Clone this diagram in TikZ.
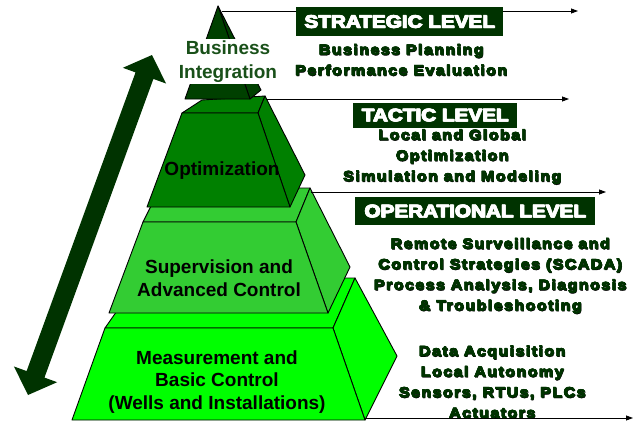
\documentclass[tikz,border=0pt]{standalone}
\usepackage{fontspec}
\setmainfont{Liberation Sans}
\newfontfamily\blk{Liberation Sans}[UprightFont={* Bold}, FakeStretch=1.15, FakeBold=2.5]
\newfontfamily\blkls{Liberation Sans}[UprightFont={* Bold}, FakeStretch=1.12, LetterSpace=10, FakeBold=2.2]
\usetikzlibrary{arrows.meta,calc}
\definecolor{darkg}{RGB}{0,51,0}
\definecolor{topg}{RGB}{0,64,0}
\definecolor{optg}{RGB}{0,128,0}
\definecolor{supg}{RGB}{51,204,51}
\definecolor{meag}{RGB}{0,255,0}
\definecolor{bizg}{RGB}{25,80,25}
% heavy text: shadow + doubled strokes
\newcommand\hvy[1]{\leavevmode\rlap{\kern0.8pt\raisebox{-0.8pt}{\textcolor{black}{#1}}}\rlap{\kern0.6pt #1}\rlap{\raisebox{0.4pt}{#1}}\rlap{\kern0.3pt\raisebox{0.2pt}{#1}}#1}
\newcommand\hvw[1]{\leavevmode\rlap{\kern0.7pt #1}\rlap{\raisebox{0.4pt}{#1}}#1}
\tikzset{
  face/.style={draw=black, line width=0.9pt, line join=round},
  levelbox/.style={fill=darkg, text=white, inner sep=0pt, font=\blk\fontsize{18}{20}\selectfont},
  desc/.style={text=darkg, align=center, inner sep=0pt, font=\blkls\fontsize{14.3}{20.6}\selectfont},
  plabel/.style={text=black, align=center, inner sep=0pt, font=\bfseries\fontsize{19}{22.5}\selectfont},
  levelline/.style={draw=black, line width=0.8pt, -{Triangle[length=7pt,width=5pt]}}
}
\begin{document}
\begin{tikzpicture}[x=1pt,y=-1pt]
\useasboundingbox (0,0) rectangle (641,423);

% ---- Measurement level
\coordinate (mFL) at (72,420);  \coordinate (mFR) at (365,420);
\coordinate (mTL) at (105,328); \coordinate (mTR) at (333,328);
\coordinate (mBL) at (140,278); \coordinate (mBR) at (355,278);
\coordinate (mSR) at (397,356);
\filldraw[face, fill=meag] (mTL) -- (mBL) -- (mBR) -- (mTR) -- cycle;
\filldraw[face, fill=meag] (mTR) -- (mBR) -- (mSR) -- (mFR) -- cycle;
\filldraw[face, fill=meag] (mFL) -- (mFR) -- (mTR) -- (mTL) -- cycle;

% ---- Supervision level
\coordinate (sFL) at (109,313); \coordinate (sFR) at (328,313);
\coordinate (sTL) at (143,222); \coordinate (sTR) at (296,222);
\coordinate (sBL) at (160,188); \coordinate (sBR) at (310,188);
\coordinate (sSR) at (350,267);
\filldraw[face, fill=supg] (sTL) -- (sBL) -- (sBR) -- (sTR) -- cycle;
\filldraw[face, fill=supg] (sTR) -- (sBR) -- (sSR) -- (sFR) -- cycle;
\filldraw[face, fill=supg] (sFL) -- (sFR) -- (sTR) -- (sTL) -- cycle;

% ---- Optimization level
\coordinate (oFL) at (147,207); \coordinate (oFR) at (290,207);
\coordinate (oTL) at (182,113); \coordinate (oTR) at (258,113);
\coordinate (oBL) at (202,100); \coordinate (oBR) at (265,96);
\coordinate (oSR) at (305,175);
\filldraw[face, fill=optg] (oTL) -- (oBL) -- (oBR) -- (oTR) -- cycle;
\filldraw[face, fill=optg] (oTR) -- (oBR) -- (oSR) -- (oFR) -- cycle;
\filldraw[face, fill=optg] (oFL) -- (oFR) -- (oTR) -- (oTL) -- cycle;

% ---- Top pyramid
\coordinate (apex) at (218,6);
\coordinate (tFL) at (185,99); \coordinate (tFR) at (250,99);
\coordinate (tBR) at (261,90);
\filldraw[face, fill=topg] (apex) -- (tFR) -- (tBR) -- cycle;
\filldraw[face, fill=topg] (apex) -- (tFL) -- (tFR) -- cycle;

% ---- Business Integration label
\node[fill=white, text=bizg, align=center, inner xsep=2pt, inner ysep=1.5pt,
      font=\bfseries\fontsize{19}{24}\selectfont] (biz) at (228,61.5) {Business\\Integration};

% ---- Big double arrow
\coordinate (aT) at (152,55);
\coordinate (aB) at (28,395);
\coordinate (hT) at ($(aT)!22pt!(aB)$);
\coordinate (hB) at ($(aB)!22pt!(aT)$);
\fill[darkg]
  (aT) -- ($(hT)!23pt!90:(aB)$) -- ($(hT)!9.5pt!90:(aB)$)
  -- ($(hB)!9.5pt!-90:(aT)$) -- ($(hB)!23pt!-90:(aT)$)
  -- (aB) -- ($(hB)!23pt!90:(aT)$) -- ($(hB)!9.5pt!90:(aT)$)
  -- ($(hT)!9.5pt!-90:(aB)$) -- ($(hT)!23pt!-90:(aB)$) -- cycle;

% ---- Level lines
\coordinate (l1s) at (222,11);  \coordinate (l1e) at (578,11);
\coordinate (l2s) at (266,99);  \coordinate (l2e) at (569,99);
\coordinate (l3s) at (311,192); \coordinate (l3e) at (606,192);
\coordinate (l4e) at (633,418);
\draw[levelline] (l1s) -- (l1e);
\draw[levelline] (l2s) -- (l2e);
\draw[levelline] (l3s) -- (l3e);
\draw[levelline] ($(mFR)+(0,-2)$) -- (l4e);

% ---- Level boxes
\node[levelbox, minimum width=207pt, minimum height=29pt] (strat) at (399.5,21.5) {\hvw{STRATEGIC LEVEL}};
\node[levelbox, minimum width=164pt, minimum height=25pt] (tact) at (435,115) {\hvw{TACTIC LEVEL}};
\node[levelbox, minimum width=240pt, minimum height=28pt] (oper) at (475,211) {\hvw{OPERATIONAL LEVEL}};

% ---- Descriptions
\node[desc] (dstrat) at (401,60) {\hvy{Business Planning}\\\hvy{Performance Evaluation}};
\node[desc] (dtact) at (452,157) {\hvy{Local and Global}\\\hvy{Optimization}\\\hvy{Simulation and Modeling}};
\node[desc] (doper) at (500,276) {\hvy{Remote Surveillance and}\\\hvy{Control Strategies (SCADA)}\\\hvy{Process Analysis, Diagnosis}\\\hvy{\& Troubleshooting}};
\node[desc] (dmeas) at (492,382) {\hvy{Data Acquisition}\\\hvy{Local Autonomy}\\\hvy{Sensors, RTUs, PLCs}\\\hvy{Actuators}};

% ---- Pyramid labels
\node[plabel] (lopt) at (222,171) {Optimization};
\node[plabel] (lsup) at (219,278) {Supervision and\\Advanced Control};
\node[plabel] (lmea) at (217,382) {Measurement and\\Basic Control\\(Wells and Installations)};
\end{tikzpicture}
\end{document}
